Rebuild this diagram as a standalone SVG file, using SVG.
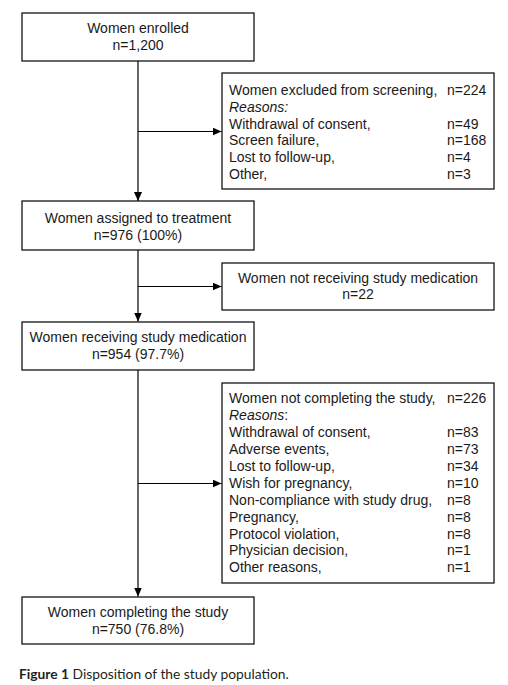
<svg xmlns="http://www.w3.org/2000/svg" width="508" height="685" viewBox="0 0 508 685">
<style>
.box{fill:#fff;stroke:#000;stroke-width:1.2}
.t{font-family:"Liberation Sans",Arial,sans-serif;font-size:14px;fill:#1a1a1a}
.c{text-anchor:middle}
.i{font-style:italic}
.ln{fill:none;stroke:#000;stroke-width:1.2}
.cap{font-family:Lato,"Open Sans",sans-serif;font-size:13.8px;fill:#231f20}
</style>
<defs>
<marker id="ah" markerWidth="9" markerHeight="8" refX="9" refY="4" orient="auto" markerUnits="userSpaceOnUse">
<path d="M0,0 L9,4 L0,8 Z" fill="#000"/>
</marker>
</defs>
<rect width="508" height="685" fill="#fff"/>
<g id="connectors">
<line class="ln" x1="138" y1="61" x2="138" y2="201" marker-end="url(#ah)"/>
<line class="ln" x1="138" y1="131.5" x2="221.5" y2="131.5" marker-end="url(#ah)"/>
<line class="ln" x1="138" y1="250" x2="138" y2="321.5" marker-end="url(#ah)"/>
<line class="ln" x1="138" y1="286.5" x2="221.5" y2="286.5" marker-end="url(#ah)"/>
<line class="ln" x1="138" y1="370" x2="138" y2="596.5" marker-end="url(#ah)"/>
<line class="ln" x1="138" y1="483.5" x2="221.5" y2="483.5" marker-end="url(#ah)"/>
</g>
<g id="enrolled">
<rect class="box" x="22" y="13" width="232" height="48"/>
<text class="t c" x="138" y="32.5">Women enrolled</text>
<text class="t c" x="138" y="49.5">n=1,200</text>
</g>
<g id="excluded">
<rect class="box" x="222" y="73" width="272" height="116"/>
<text class="t" x="229" y="95">Women excluded from screening,</text>
<text class="t" x="447" y="95">n=224</text>
<text class="t i" x="229" y="111.8">Reasons:</text>
<text class="t" x="229" y="128.6">Withdrawal of consent,</text>
<text class="t" x="447" y="128.6">n=49</text>
<text class="t" x="229" y="145.4">Screen failure,</text>
<text class="t" x="447" y="145.4">n=168</text>
<text class="t" x="229" y="162.2">Lost to follow-up,</text>
<text class="t" x="447" y="162.2">n=4</text>
<text class="t" x="229" y="179">Other,</text>
<text class="t" x="447" y="179">n=3</text>
</g>
<g id="assigned">
<rect class="box" x="22" y="201" width="232" height="49"/>
<text class="t c" x="138" y="223">Women assigned to treatment</text>
<text class="t c" x="138" y="240">n=976 (100%)</text>
</g>
<g id="not-receiving">
<rect class="box" x="222" y="263" width="272" height="47"/>
<text class="t c" x="358" y="282.5">Women not receiving study medication</text>
<text class="t c" x="358" y="298.5">n=22</text>
</g>
<g id="receiving">
<rect class="box" x="22" y="322" width="232" height="48"/>
<text class="t c" x="138" y="342.3">Women receiving study medication</text>
<text class="t c" x="138" y="359.3">n=954 (97.7%)</text>
</g>
<g id="not-completing">
<rect class="box" x="222" y="383" width="272" height="200"/>
<text class="t" x="229" y="403.3">Women not completing the study,</text>
<text class="t" x="447" y="403.3">n=226</text>
<text class="t" x="229" y="420.2"><tspan class="i">Reasons</tspan>:</text>
<text class="t" x="229" y="437.1">Withdrawal of consent,</text>
<text class="t" x="447" y="437.1">n=83</text>
<text class="t" x="229" y="454">Adverse events,</text>
<text class="t" x="447" y="454">n=73</text>
<text class="t" x="229" y="470.9">Lost to follow-up,</text>
<text class="t" x="447" y="470.9">n=34</text>
<text class="t" x="229" y="487.8">Wish for pregnancy,</text>
<text class="t" x="447" y="487.8">n=10</text>
<text class="t" x="229" y="504.7">Non-compliance with study drug,</text>
<text class="t" x="447" y="504.7">n=8</text>
<text class="t" x="229" y="521.6">Pregnancy,</text>
<text class="t" x="447" y="521.6">n=8</text>
<text class="t" x="229" y="538.5">Protocol violation,</text>
<text class="t" x="447" y="538.5">n=8</text>
<text class="t" x="229" y="555.4">Physician decision,</text>
<text class="t" x="447" y="555.4">n=1</text>
<text class="t" x="229" y="572.3">Other reasons,</text>
<text class="t" x="447" y="572.3">n=1</text>
</g>
<g id="completing">
<rect class="box" x="22" y="597" width="232" height="47"/>
<text class="t c" x="138" y="616.7">Women completing the study</text>
<text class="t c" x="138" y="634">n=750 (76.8%)</text>
</g>
<text class="cap" x="19" y="679"><tspan font-weight="bold">Figure 1</tspan> Disposition of the study population.</text>
</svg>
